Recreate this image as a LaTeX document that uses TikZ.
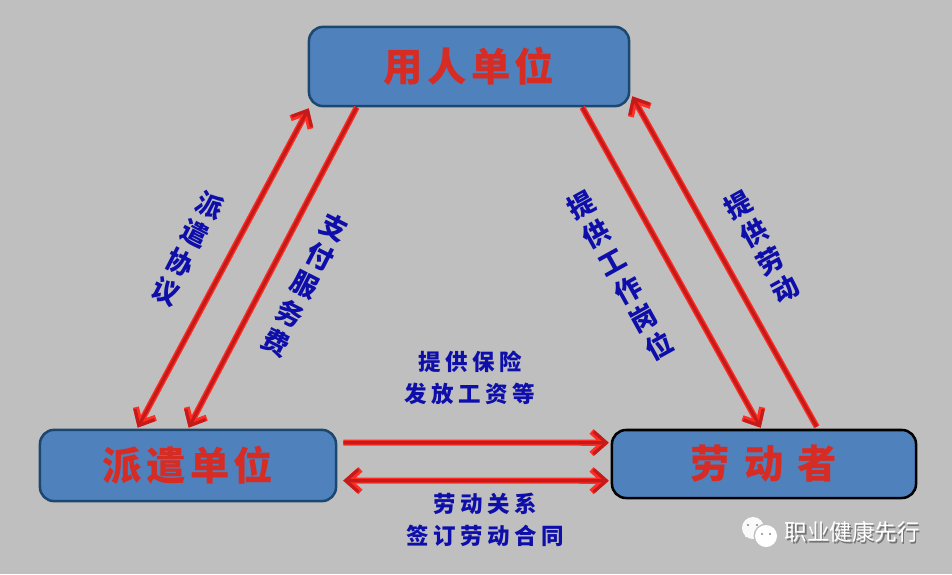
\documentclass[tikz,border=0pt]{standalone}
\usepackage{fontspec}
\setmainfont{Noto Sans CJK SC}
\usetikzlibrary{arrows.meta,calc,positioning}
\definecolor{bggray}{RGB}{192,191,192}
\definecolor{boxblue}{RGB}{79,129,189}
\definecolor{boxedge}{RGB}{28,72,112}
\definecolor{linkred}{RGB}{196,26,26}
\definecolor{haloRed}{RGB}{255,45,35}
\definecolor{labelblue}{RGB}{14,14,170}
\definecolor{titlered}{RGB}{214,44,36}
\tikzset{
  partybox/.style={draw=boxedge,fill=boxblue,line width=1.8pt,rounded corners=10pt,
    text=titlered,font=\fontsize{28}{31}\selectfont\bfseries},
  link/.style={draw=linkred,line width=2.3pt,>={Straight Barb[length=9pt,width=16pt]},
    preaction={draw=haloRed,line width=4.3pt}},
  slantlabel/.style={text=labelblue,align=center,inner sep=0pt,
    font=\fontsize{19}{22.9}\selectfont\bfseries},
  flatlabel/.style={text=labelblue,align=center,inner sep=0pt,
    font=\fontsize{16}{22.5}\selectfont\bfseries\addfontfeature{LetterSpace=20}},
  marklabel/.style={inner sep=0pt,font=\fontsize{16}{18}\selectfont},
}
\begin{document}
\begin{tikzpicture}[x=0.025cm,y=-0.025cm]
  % background
  \fill[bggray] (0,0) rectangle (952,574);
  \useasboundingbox (0,0) rectangle (952,574);
  % parties
  \node[partybox,minimum width=8cm,minimum height=1.98cm] (user) at (469,66.5) {\addfontfeature{LetterSpace=11}用人单位};
  \node[partybox,minimum width=7.4cm,minimum height=1.78cm] (agency) at (188,465.5) {\addfontfeature{LetterSpace=11}派遣单位};
  \node[partybox,draw=black,minimum width=7.6cm,minimum height=1.7cm] (worker) at (764,464) {\addfontfeature{LetterSpace=36}劳动者};
  % links on the left
  \draw[link,<->] ($(agency.north west)+(99,-1)$) -- ($(user.south west)+(1,1)$);
  \draw[link,->] ($(user.south west)+(49,0)$) -- ($(agency.north west)+(150,-1)$);
  % links on the right
  \draw[link,->] ($(user.south east)+(-48,0)$) -- ($(worker.north west)+(150,-1)$);
  \draw[link,->] ($(worker.north west)+(206,-2)$) -- ($(user.south east)+(2,-11)$);
  % links at the bottom
  \draw[link,->] ($(agency.north east)+(6,14)$) -- ($(worker.north west)+(-2,14)$);
  \draw[link,<->] ($(agency.north east)+(6,52)$) -- ($(worker.north west)+(-2,52)$);
  % labels
  \node[slantlabel,rotate=-27] (contract) at (187.5,248.5) {派\\遣\\协\\议};
  \node[slantlabel,rotate=-27] (payment) at (305,285) {支\\付\\服\\务\\费};
  \node[slantlabel,rotate=29] (post) at (620,276) {提\\供\\工\\作\\岗\\位};
  \node[slantlabel,rotate=29] (labour) at (762,247) {提\\供\\劳\\动};
  \node[flatlabel] (wages) at (470,378) {提供保险\\发放工资等};
  \node[flatlabel] (relation) at (485,520) {劳动关系\\签订劳动合同};
  % account mark
  \fill[white!92!bggray] (753,528) circle (11);
  \fill[white!92!bggray] (745,537) -- (749,530) -- (755,536) -- cycle;
  \fill[bggray] (766,536) circle (12.5);
  \fill[white] (766,536) circle (11);
  \fill[white] (772,544) -- (768,540) -- (764,546) -- cycle;
  \fill[bggray!70!black] (748,525) circle (1.2) (757,525) circle (1.2) (762,534) circle (1.2) (770,534) circle (1.2);
  \node[marklabel,text=black!55] (markshade) at (853.5,533.5) {职业健康先行};
  \node[marklabel,text=white] (mark) at (852,532) {职业健康先行};
\end{tikzpicture}
\end{document}
